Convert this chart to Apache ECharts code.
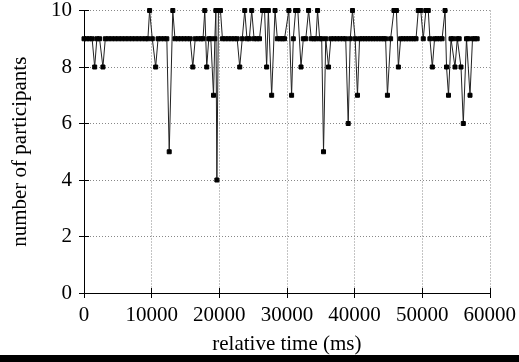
<!DOCTYPE html>
<html>
<head>
<meta charset="utf-8">
<script src="https://cdn.jsdelivr.net/npm/echarts@6/dist/echarts.min.js"></script>
<style>html,body{margin:0;padding:0;background:#fff}#c{width:519px;height:362px}</style>
</head>
<body>
<div id="c"></div>
<script>
// relative time (ms) of each sample
var times = [
  0,400,800,1200,1580,1900,2300,2800,3150,3600,
  4100,4600,5100,5600,6100,6600,7100,7600,8100,8600,
  9100,9450,9700,10100,10600,10950,11400,11850,12250,12600,
  13130,13450,13900,14350,14800,15250,15700,16090,16450,16900,
  17300,17600,17860,18150,18450,18750,19150,19350,19500,19650,
  19880,20180,20470,20900,21350,21800,22250,22650,23030,23400,
  23770,24100,24450,24800,25150,25550,25950,26400,26700,27010,
  27260,27750,28250,28590,29000,29350,29650,30290,30700,30950,
  31290,31620,32090,32430,32800,33210,33610,34000,34300,34540,
  34850,35150,35420,35750,36160,36500,36950,37400,37850,38300,
  38700,39070,39370,39700,40100,40440,40750,41150,41550,41950,
  42350,42750,43150,43550,43950,44300,44600,44870,45340,45830,
  46200,46490,46820,47200,47600,48000,48400,48750,49100,49430,
  49800,50170,50550,50910,51150,51510,51840,52200,52600,52950,
  53390,53610,53900,54270,54550,54860,55200,55480,55750,56090,
  56560,56800,57080,57450,57800,58140
];
// number of participants at each sample
var participants = [
  9,9,9,9,8,9,9,8,9,9,
  9,9,9,9,9,9,9,9,9,9,
  9,9,10,9,8,9,9,9,9,5,
  10,9,9,9,9,9,9,8,9,9,
  9,9,10,8,9,9,7,9,10,4,
  10,10,9,9,9,9,9,9,8,9,
  10,9,9,10,9,9,9,10,10,8,
  10,7,10,9,9,9,9,10,7,9,
  10,10,8,9,9,10,9,9,9,10,
  9,9,5,9,8,9,9,9,9,9,
  9,6,9,10,9,7,9,9,9,9,
  9,9,9,9,9,9,9,7,9,10,
  10,8,9,9,9,9,9,9,9,10,
  10,9,10,10,9,8,9,9,9,9,
  10,8,7,9,9,8,9,9,8,6,
  9,9,7,9,9,9
];
var xTicks = [0, 10000, 20000, 30000, 40000, 50000, 60000];
var yTicks = [0, 2, 4, 6, 8, 10];

var data = times.map(function (t, i) { return [t, participants[i]]; });
var FONT = 'Liberation Serif';
var FS = 21;
var chart = echarts.init(document.getElementById('c'), null, {renderer: 'canvas'});
var gridLine = {show: true, lineStyle: {color: '#888', type: [1, 2], width: 1}};
var line = {show: true, lineStyle: {color: '#000', width: 1}};
var tick = {show: true, inside: true, length: 5, lineStyle: {color: '#000'}};
chart.setOption({
  animation: false,
  backgroundColor: '#fff',
  grid: {left: 84, right: 28, top: 6, bottom: 69, containLabel: false},
  xAxis: [{
    type: 'value', min: xTicks[0], max: xTicks[xTicks.length - 1], interval: 10000,
    axisLine: line, axisTick: tick,
    splitLine: gridLine,
    axisLabel: {color: '#000', fontFamily: FONT, fontSize: FS, margin: 12,
      formatter: function (v) { return String(v); }},
    name: 'relative time (ms)', nameLocation: 'middle', nameGap: 41,
    nameTextStyle: {color: '#000', fontFamily: FONT, fontSize: FS}
  }, {
    type: 'value', position: 'top', min: xTicks[0], max: xTicks[xTicks.length - 1], interval: 10000,
    axisLine: line, axisTick: tick,
    splitLine: {show: false}, axisLabel: {show: false}
  }],
  yAxis: [{
    type: 'value', min: yTicks[0], max: yTicks[yTicks.length - 1], interval: 2,
    axisLine: line, axisTick: tick,
    splitLine: gridLine,
    axisLabel: {color: '#000', fontFamily: FONT, fontSize: FS, margin: 12},
    name: 'number of participants', nameLocation: 'middle', nameGap: 53, nameRotate: 90,
    nameTextStyle: {color: '#000', fontFamily: FONT, fontSize: FS}
  }, {
    type: 'value', position: 'right', min: yTicks[0], max: yTicks[yTicks.length - 1], interval: 2,
    axisLine: line, axisTick: tick,
    splitLine: {show: false}, axisLabel: {show: false}
  }],
  series: [{
    type: 'line', data: data, xAxisIndex: 0, yAxisIndex: 0,
    symbol: 'rect', symbolSize: 4, showSymbol: true, showAllSymbol: true,
    itemStyle: {color: '#000', borderColor: '#000', borderWidth: 1, opacity: 1},
    lineStyle: {color: '#222', width: 1},
    clip: false
  }],
  graphic: [{
    type: 'rect', left: 0, top: 355, shape: {width: 519, height: 7},
    style: {fill: '#000'}
  }]
});
</script>
</body>
</html>
